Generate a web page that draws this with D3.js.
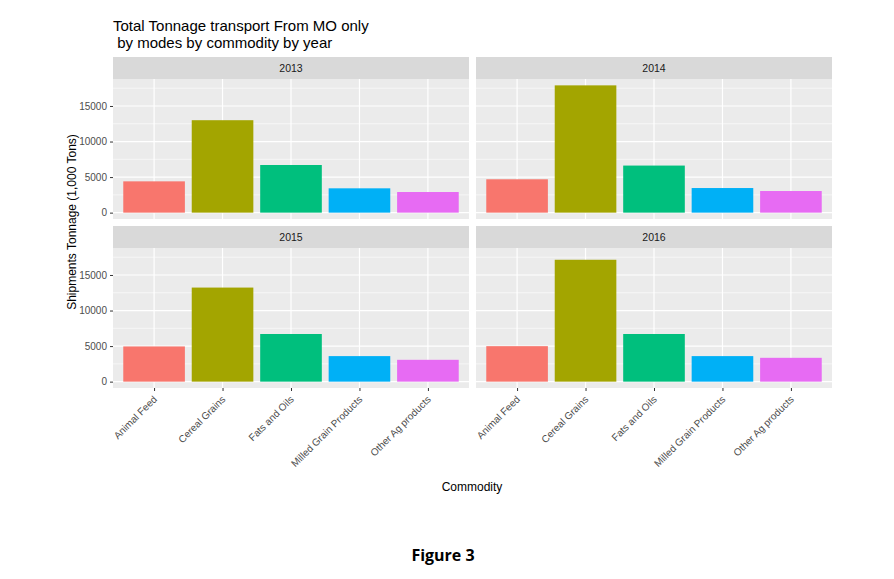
<!DOCTYPE html>
<html><head><meta charset="utf-8">
<script src="https://cdn.jsdelivr.net/npm/d3@7"></script>
<style>body{margin:0;background:#fff;}svg{display:block;}</style>
</head><body>
<svg id="c" width="894" height="579"></svg>
<script>
const years = ["2013","2014","2015","2016"];
const commodities = ["Animal Feed","Cereal Grains","Fats and Oils","Milled Grain Products","Other Ag products"];
const colors = ["#F8766D","#A3A500","#00BF7D","#00B0F6","#E76BF3"];
const values2013 = [4400, 13000, 6700, 3420, 2900];
const values2014 = [4690, 17900, 6620, 3460, 3040];
const values2015 = [4950, 13230, 6700, 3590, 3070];
const values2016 = [4990, 17140, 6700, 3590, 3350];
const yTicks = [0, 5000, 10000, 15000];
const yMinor = [2500, 7500, 12500, 17500];
const allValues = [values2013, values2014, values2015, values2016];

const svg = d3.select("#c");
const font = "Liberation Sans, Arial, sans-serif";

const colX = [113, 476], panelW = 356;
const stripTop = [57, 226], stripH = 22, panelH = 140;

const maxV = d3.max(allValues.flat());
const pad = maxV * 0.05;
const y = d3.scaleLinear().domain([-pad, maxV + pad]).range([panelH, 0]);
// ggplot discrete: expand 0.6 units on each side; bar width 0.9
const x = d3.scalePoint().domain(commodities).range([0, panelW]).padding(0.6);
const unit = x.step();
const cx = c => x(c);
const colorScale = d3.scaleOrdinal().domain(commodities).range(colors);

const t = svg.append("text").attr("x", 113).attr("y", 31).attr("font-family", font).attr("font-size", 15).attr("fill", "#000");
t.append("tspan").attr("x", 113).text("Total Tonnage transport From MO only");
t.append("tspan").attr("x", 113).attr("dy", 17).text("\u00a0by modes by commodity by year");

years.forEach((yr, i) => {
  const r = Math.floor(i / 2), c = i % 2;
  const px = colX[c], sy = stripTop[r], py = sy + stripH;
  svg.append("rect").attr("x", px).attr("y", sy).attr("width", panelW).attr("height", stripH).attr("fill", "#D9D9D9");
  svg.append("text").attr("x", px + panelW/2).attr("y", sy + stripH/2 + 4).attr("text-anchor","middle")
    .attr("font-family", font).attr("font-size", 10.5).attr("fill", "#1A1A1A").text(yr);
  const g = svg.append("g").attr("transform", `translate(${px},${py})`);
  g.append("rect").attr("width", panelW).attr("height", panelH).attr("fill", "#EBEBEB");
  g.selectAll(".mn").data(yMinor).enter().append("line")
    .attr("x1", 0).attr("x2", panelW).attr("y1", d => y(d)).attr("y2", d => y(d))
    .attr("stroke", "#fff").attr("stroke-width", 0.6);
  g.selectAll(".mj").data(yTicks).enter().append("line")
    .attr("x1", 0).attr("x2", panelW).attr("y1", d => y(d)).attr("y2", d => y(d))
    .attr("stroke", "#fff").attr("stroke-width", 1.2);
  g.selectAll(".vx").data(commodities).enter().append("line")
    .attr("x1", d => cx(d)).attr("x2", d => cx(d)).attr("y1", 0).attr("y2", panelH)
    .attr("stroke", "#fff").attr("stroke-width", 1.2);
  const vals = allValues[i];
  g.selectAll(".bar").data(commodities).enter().append("rect")
    .attr("x", d => cx(d) - unit*0.45).attr("width", unit*0.9)
    .attr("y", (d, k) => y(vals[k])).attr("height", (d, k) => y(0) - y(vals[k]))
    .attr("fill", d => colorScale(d));
  if (c === 0) {
    const ax = d3.axisLeft(y).tickValues(yTicks).tickFormat(d3.format("d")).tickSize(3).tickPadding(3);
    const ag = g.append("g").call(ax);
    ag.select(".domain").remove();
    ag.selectAll("line").attr("stroke", "#333");
    ag.selectAll("text").attr("font-family", font).attr("font-size", 10).attr("fill", "#4D4D4D");
  }
  if (r === 1) {
    const ax = d3.axisBottom(x).tickSize(3).tickPadding(0);
    const xa = g.append("g").attr("transform", `translate(0,${panelH})`).call(ax);
    xa.select(".domain").remove();
    xa.selectAll("line").attr("stroke", "#333");
    xa.selectAll("text").attr("dy", null).attr("y", null)
      .attr("transform", "translate(3,12) rotate(-45)")
      .attr("text-anchor", "end").attr("font-family", font).attr("font-size", 10).attr("fill", "#4D4D4D");
  }
});

svg.append("text").attr("transform", "translate(76,222) rotate(-90)").attr("text-anchor","middle")
  .attr("font-family", font).attr("font-size", 12).attr("fill", "#000").text("Shipments Tonnage (1,000 Tons)");
svg.append("text").attr("x", 472).attr("y", 491).attr("text-anchor","middle")
  .attr("font-family", font).attr("font-size", 12).attr("fill", "#000").text("Commodity");
svg.append("text").attr("x", 443).attr("y", 561).attr("text-anchor","middle")
  .attr("font-family", "Open Sans, sans-serif").attr("font-weight","bold").attr("font-size", 16).attr("fill", "#000").text("Figure 3");
</script>
</body></html>
